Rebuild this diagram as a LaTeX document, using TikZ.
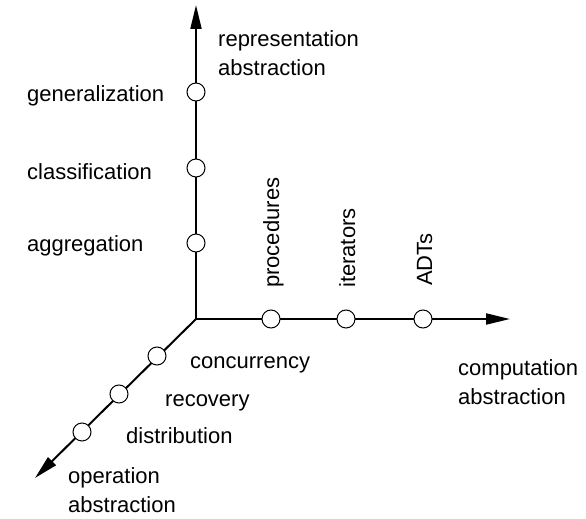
\documentclass[tikz,border=0pt]{standalone}
\usepackage{fontspec}
\setmainfont{Liberation Sans}
\usetikzlibrary{arrows.meta}
\begin{document}
\begin{tikzpicture}[x=1pt,y=-1pt,
  axis/.style={line width=2pt,-{Triangle[length=24pt,width=11pt]}},
  dot/.style={circle,draw,line width=1pt,fill=white,minimum size=18pt,inner sep=0pt},
  lbl/.style={font=\fontsize{22}{30}\selectfont,inner sep=0pt,anchor=base west},
  lbl2/.style={font=\fontsize{22}{29}\selectfont,inner sep=0pt,anchor=north west,align=left}]
\path[use as bounding box] (0,0) rectangle (586,519);
\coordinate (O) at (196,319);
\coordinate (Vtip) at (196,5);
\coordinate (Htip) at (510,319);
\coordinate (Dtip) at (35,478);
\draw[axis] (O) -- (Vtip);
\draw[axis] (O) -- (Htip);
\draw[axis] (O) -- (Dtip);
\node[dot] (v1) at (196,92) {};
\node[dot] (v2) at (196,168) {};
\node[dot] (v3) at (196,243) {};
\node[dot] (h1) at (271,319) {};
\node[dot] (h2) at (346,319) {};
\node[dot] (h3) at (423,319) {};
\node[dot] (d1) at (157,356) {};
\node[dot] (d2) at (119,394) {};
\node[dot] (d3) at (82,432) {};
\node[lbl2] (rep) at (218,30) {representation\\abstraction};
\node[lbl] (gen) at (27,101) {generalization};
\node[lbl] (cla) at (27,179) {classification};
\node[lbl] (agg) at (27,251) {aggregation};
\node[lbl,rotate=90] (pro) at (279,288) {procedures};
\node[lbl,rotate=90] (ite) at (355,288) {iterators};
\node[lbl,rotate=90] (adt) at (432,286) {ADTs};
\node[lbl2] (com) at (458,359) {computation\\abstraction};
\node[lbl] (con) at (190,368) {concurrency};
\node[lbl] (rec) at (165,406) {recovery};
\node[lbl] (dis) at (126,443) {distribution};
\node[lbl2] (ope) at (68,467) {operation\\abstraction};
\end{tikzpicture}
\end{document}
